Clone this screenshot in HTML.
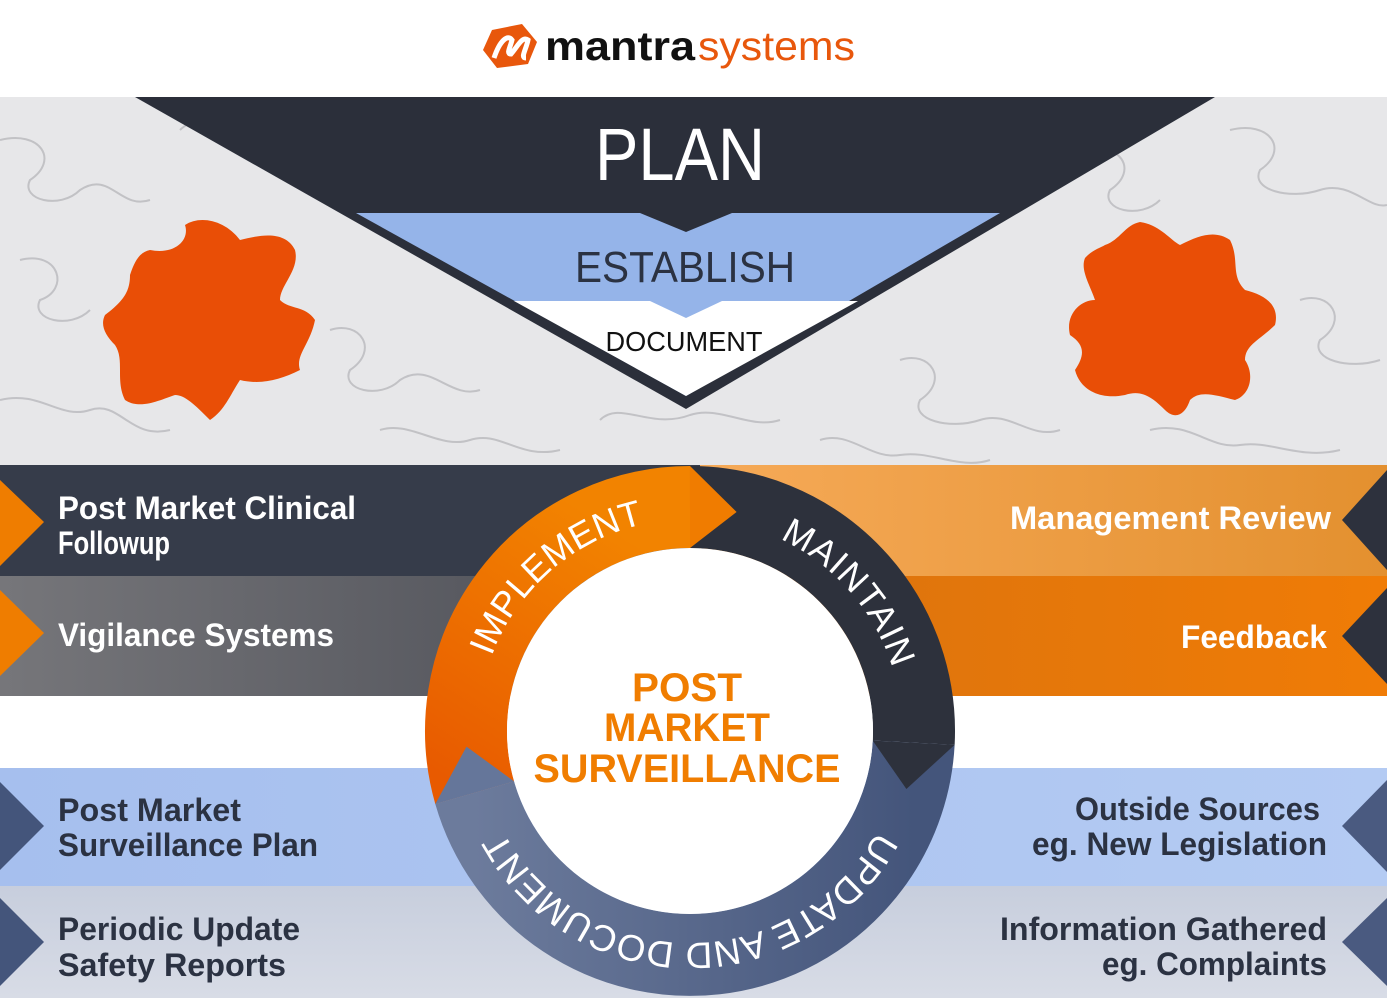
<!DOCTYPE html>
<html><head><meta charset="utf-8"><style>
html,body{margin:0;padding:0;background:#fff}
svg{display:block}
text{font-family:"Liberation Sans",Arial,sans-serif}
</style></head><body>
<svg width="1387" height="998" viewBox="0 0 1387 998" xmlns="http://www.w3.org/2000/svg">
<defs>
<linearGradient id="gray" x1="0" x2="1"><stop offset="0" stop-color="#76767a"/><stop offset="1" stop-color="#4a4c54"/></linearGradient>
<linearGradient id="lor" x1="0" x2="1"><stop offset="0" stop-color="#f6aa58"/><stop offset="1" stop-color="#e3902f"/></linearGradient>
<linearGradient id="dor" x1="0" x2="1"><stop offset="0" stop-color="#d9720f"/><stop offset="1" stop-color="#f07c06"/></linearGradient>
<linearGradient id="lbl" x1="0" x2="1"><stop offset="0" stop-color="#a6bfee"/><stop offset="1" stop-color="#b4cbf3"/></linearGradient>
<linearGradient id="lgr" x1="0" y1="0" x2="0" y2="1"><stop offset="0" stop-color="#c7cedd"/><stop offset="1" stop-color="#d8dce6"/></linearGradient>
<linearGradient id="blu" x1="0" x2="1"><stop offset="0" stop-color="#6c7b9c"/><stop offset="1" stop-color="#44557b"/></linearGradient>
<linearGradient id="org" x1="0" y1="1" x2="0.5" y2="0"><stop offset="0" stop-color="#e85a00"/><stop offset="1" stop-color="#f28300"/></linearGradient>
<path id="tImp" d="M478,734.7 A212,212 0 0 1 723.2,521.6"/>
<path id="tMai" d="M686.3,519 A212,212 0 0 1 899.4,764.2"/>
<path id="tUpd" d="M889.2,803.5 A212,212 0 0 1 490.8,803.5"/>
</defs>

<rect x="0" y="0" width="1387" height="97" fill="#fff"/>
<path d="M492,30 L522,24 L537,42 L528,64 L497,68 L483,50 Z" fill="#e8570c"/>
<path d="M494,58 C500,40 508,34 512,40 C510,48 506,54 511,54 C518,46 522,36 528,40 C526,50 520,58 526,58" fill="none" stroke="#fff" stroke-width="5"/>
<text x="545" y="60" font-size="41" font-weight="bold" fill="#111" textLength="150" lengthAdjust="spacingAndGlyphs">mantra</text>
<text x="698" y="60" font-size="41" fill="#e8570c" textLength="157" lengthAdjust="spacingAndGlyphs">systems</text>

<rect x="0" y="97" width="1387" height="370" fill="#e7e7e9"/>
<g fill="none" stroke="#b9b9bd" stroke-width="2" opacity="0.8">
<path d="M0,140 C40,130 60,160 30,180 C20,200 60,210 80,190 C110,170 120,210 150,200"/>
<path d="M20,260 C60,250 70,290 40,300 C30,320 70,330 90,310"/>
<path d="M0,400 C40,390 60,420 90,410 C120,400 130,440 170,430"/>
<path d="M330,330 C360,320 380,350 350,370 C340,390 380,400 400,380 C430,360 450,400 480,390"/>
<path d="M380,430 C410,420 440,450 470,440 C500,430 520,460 560,450"/>
<path d="M1080,150 C1120,140 1140,170 1110,190 C1100,210 1140,220 1160,200"/>
<path d="M1230,130 C1270,120 1290,150 1260,170 C1250,190 1290,200 1320,190 C1350,180 1370,210 1387,205"/>
<path d="M1300,300 C1330,290 1350,320 1320,340 C1310,360 1350,370 1380,360"/>
<path d="M900,360 C930,350 950,380 920,400 C910,420 950,430 980,420 C1010,410 1030,440 1060,430"/>
<path d="M820,440 C850,430 870,460 900,455 C930,450 960,470 990,460"/>
<path d="M1150,430 C1190,420 1210,450 1240,445 C1270,440 1300,460 1340,450"/>
<path d="M180,130 C200,110 230,125 250,110"/>
<path d="M600,420 C620,400 650,430 690,415 C720,405 750,430 780,420"/>
</g>
<path d="M150,250 C175,255 190,240 185,225 C200,215 225,220 240,240 C260,235 285,230 295,250 C300,270 280,285 280,300 C290,310 305,305 315,320 C310,345 295,355 300,370 C280,380 260,385 240,380 C230,395 225,410 210,420 C195,405 185,395 175,395 C160,400 140,410 125,400 C115,380 125,360 115,345 C105,335 100,325 105,315 C125,300 130,290 130,275 C135,260 140,252 150,250 Z" fill="#e94e06"/>
<path d="M1105,245 C1120,240 1125,225 1140,222 C1160,225 1170,240 1180,245 C1200,235 1215,230 1230,240 C1240,260 1230,275 1245,290 C1265,295 1280,305 1275,325 C1260,340 1245,345 1245,360 C1255,375 1250,395 1235,400 C1215,395 1200,390 1190,400 C1185,415 1175,420 1165,410 C1150,395 1140,390 1125,395 C1100,400 1080,390 1075,370 C1085,355 1085,345 1070,335 C1065,315 1080,300 1095,300 C1090,285 1080,270 1085,258 C1092,250 1100,248 1105,245 Z" fill="#e94e06"/>

<polygon points="135,97 1215,97 686,409" fill="#2b2f3a"/>
<polygon points="356,213 1000,213 686,396" fill="#95b4e9"/>
<polygon points="640,213 732,213 686,232" fill="#2b2f3a"/>
<polygon points="514,301 858,301 686,396" fill="#fff"/>
<polygon points="650,301 722,301 686,318" fill="#95b4e9"/>
<text x="680" y="180" font-size="74" fill="#fff" text-anchor="middle" textLength="170" lengthAdjust="spacingAndGlyphs">PLAN</text>
<text x="685" y="282" font-size="44" fill="#2b3242" text-anchor="middle" textLength="220" lengthAdjust="spacingAndGlyphs">ESTABLISH</text>
<text x="684" y="351" font-size="28" fill="#111" text-anchor="middle" textLength="157" lengthAdjust="spacingAndGlyphs">DOCUMENT</text>

<rect x="0" y="465" width="700" height="111" fill="#363c4a"/>
<rect x="0" y="576" width="700" height="120" fill="url(#gray)"/>
<rect x="700" y="465" width="687" height="111" fill="url(#lor)"/>
<rect x="700" y="576" width="687" height="120" fill="url(#dor)"/>
<rect x="0" y="696" width="1387" height="72" fill="#fff"/>
<rect x="0" y="768" width="1387" height="118" fill="url(#lbl)"/>
<rect x="0" y="886" width="1387" height="112" fill="url(#lgr)"/>
<polygon points="0,480 44,522 0,566" fill="#ef7d00"/>
<polygon points="0,590 44,633 0,676" fill="#ef7d00"/>
<polygon points="0,782 44,826 0,870" fill="#44557b"/>
<polygon points="0,898 44,942 0,986" fill="#44557b"/>
<polygon points="1387,470 1342,520 1387,570" fill="#2d313d"/>
<polygon points="1387,588 1342,636 1387,684" fill="#2d313d"/>
<polygon points="1387,780 1342,826 1387,872" fill="#4a5a80"/>
<polygon points="1387,898 1342,942 1387,986" fill="#4a5a80"/>

<g font-weight="bold" font-size="32">
<text x="58" y="519" fill="#fff" textLength="298" lengthAdjust="spacingAndGlyphs">Post Market Clinical</text>
<text x="58" y="554" fill="#fff" textLength="112" lengthAdjust="spacingAndGlyphs">Followup</text>
<text x="58" y="646" fill="#fff" textLength="276" lengthAdjust="spacingAndGlyphs">Vigilance Systems</text>
<text x="58" y="821" fill="#2b3242" textLength="183" lengthAdjust="spacingAndGlyphs">Post Market</text>
<text x="58" y="856" fill="#2b3242" textLength="260" lengthAdjust="spacingAndGlyphs">Surveillance Plan</text>
<text x="58" y="940" fill="#2b3242" textLength="242" lengthAdjust="spacingAndGlyphs">Periodic Update</text>
<text x="58" y="976" fill="#2b3242" textLength="228" lengthAdjust="spacingAndGlyphs">Safety Reports</text>
<text x="1331" y="529" fill="#fff" text-anchor="end" textLength="321" lengthAdjust="spacingAndGlyphs">Management Review</text>
<text x="1327" y="648" fill="#fff" text-anchor="end" textLength="146" lengthAdjust="spacingAndGlyphs">Feedback</text>
<text x="1320" y="820" fill="#2b3242" text-anchor="end" textLength="245" lengthAdjust="spacingAndGlyphs">Outside Sources</text>
<text x="1327" y="855" fill="#2b3242" text-anchor="end" textLength="295" lengthAdjust="spacingAndGlyphs">eg. New Legislation</text>
<text x="1327" y="940" fill="#2b3242" text-anchor="end" textLength="327" lengthAdjust="spacingAndGlyphs">Information Gathered</text>
<text x="1327" y="975" fill="#2b3242" text-anchor="end" textLength="225" lengthAdjust="spacingAndGlyphs">eg. Complaints</text>
</g>

<path d="M474.7,792.7 A224,224 0 0 1 690,507" fill="none" stroke="url(#org)" stroke-width="82"/>
<path d="M690,507 A224,224 0 0 1 913.7,742.7" fill="none" stroke="#2d313c" stroke-width="82"/>
<path d="M913.7,742.7 A224,224 0 0 1 474.7,792.7" fill="none" stroke="url(#blu)" stroke-width="82"/>
<polygon points="690,466 736.6,512 690,548" fill="#f07c00"/>
<polygon points="954.6,744.9 906.4,789 872.7,740.6" fill="#2d313c"/>
<polygon points="435.3,804 466.5,746.6 514.1,781.4" fill="#65769a"/>
<circle cx="690" cy="731" r="183" fill="#fff"/>

<g fill="#fff" font-size="36">
<text letter-spacing="0"><textPath href="#tImp" startOffset="50%" text-anchor="middle">IMPLEMENT</textPath></text>
<text letter-spacing="1"><textPath href="#tMai" startOffset="50%" text-anchor="middle">MAINTAIN</textPath></text>
<text letter-spacing="0" font-size="37"><textPath href="#tUpd" startOffset="50%" text-anchor="middle">UPDATE AND DOCUMENT</textPath></text>
</g>
<g fill="#f07d00" font-size="40" font-weight="bold" text-anchor="middle">
<text x="687" y="701" textLength="110" lengthAdjust="spacingAndGlyphs">POST</text>
<text x="687" y="741" textLength="166" lengthAdjust="spacingAndGlyphs">MARKET</text>
<text x="687" y="782" textLength="307" lengthAdjust="spacingAndGlyphs">SURVEILLANCE</text>
</g>
</svg>
</body></html>
